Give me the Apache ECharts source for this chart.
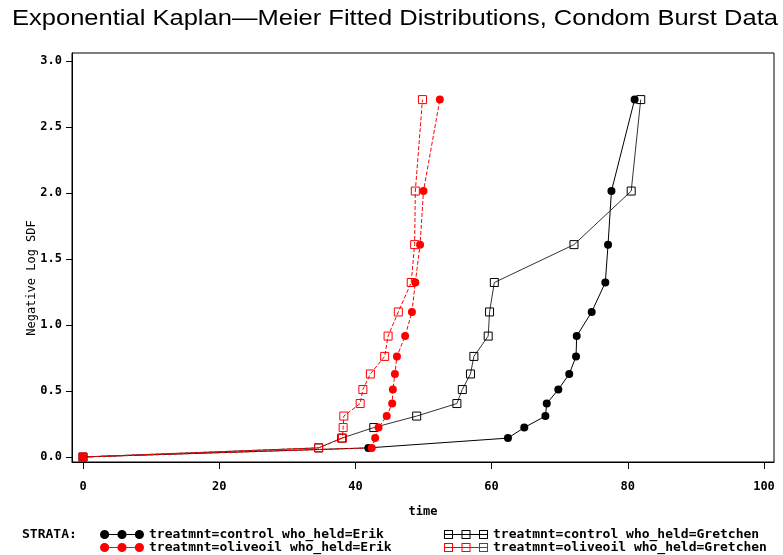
<!DOCTYPE html>
<html><head><meta charset="utf-8">
<script src="https://cdn.jsdelivr.net/npm/echarts@6/dist/echarts.min.js"></script>
<style>html,body{margin:0;padding:0;background:#fff}#c{width:783px;height:555px}</style>
</head><body><div id="c"></div>
<script>
const titleText = 'Exponential Kaplan\u2014Meier Fitted Distributions, Condom Burst Data';
const xAxisName = 'time';
const yAxisName = 'Negative Log SDF';
const legendTitle = 'STRATA:';
const seriesNames = [
  'treatmnt=control who_held=Erik',
  'treatmnt=control who_held=Gretchen',
  'treatmnt=oliveoil who_held=Erik',
  'treatmnt=oliveoil who_held=Gretchen'
];
// negative log SDF levels (same step levels for every stratum)
const sdfLevels = [0, 0.069, 0.143, 0.223, 0.310, 0.405, 0.511, 0.629, 0.762, 0.916, 1.099, 1.322, 1.609, 2.015, 2.708];
// burst times per stratum
const timeControlErik     = [0, 41.9, 62.4, 64.8, 67.9, 68.1, 69.8, 71.4, 72.4, 72.5, 74.7, 76.7, 77.1, 77.6, 81.0];
const timeControlGretchen = [0, 34.6, 38.0, 42.7, 49.0, 54.9, 55.7, 56.9, 57.4, 59.5, 59.7, 60.4, 72.1, 80.5, 81.9];
const timeOliveErik       = [0, 42.4, 42.9, 43.4, 44.6, 45.4, 45.5, 45.8, 46.1, 47.3, 48.3, 48.8, 49.5, 50.0, 52.4];
const timeOliveGretchen   = [0, 34.6, 38.1, 38.2, 38.3, 40.7, 41.1, 42.2, 44.3, 44.8, 46.3, 48.2, 48.7, 48.8, 49.85];
const xTicks = [0, 20, 40, 60, 80, 100];
const yTicks = [0, 0.5, 1.0, 1.5, 2.0, 2.5, 3.0];

const pairs = (ts) => ts.map((t, i) => [t, sdfLevels[i]]);
const MONO = 'DejaVu Sans Mono';

const circleIcon = 'path://M0.5,5A4.5,4.5,0,1,1,9.5,5A4.5,4.5,0,1,1,0.5,5Z' +
  'M17.5,5A4.5,4.5,0,1,1,26.5,5A4.5,4.5,0,1,1,17.5,5Z' +
  'M34.5,5A4.5,4.5,0,1,1,43.5,5A4.5,4.5,0,1,1,34.5,5Z' +
  'M9.5,4.5H17.5V5.5H9.5Z M26.5,4.5H34.5V5.5H26.5Z';
const squareIcon = 'path://M0,0.5H9V9.5H0Z M1,1.5V8.5H8V1.5Z' +
  'M17.5,0.5H26.5V9.5H17.5Z M18.5,1.5V8.5H25.5V1.5Z' +
  'M35,0.5H44V9.5H35Z M36,1.5V8.5H43V1.5Z' +
  'M0,4.5H44V5.5H0Z';
const legendColors = ['#000', '#000', '#ff0000', '#ff0000'];
const legendIcons = [circleIcon, squareIcon, circleIcon, squareIcon];
const legendPos = [[100, 528], [444, 528], [100, 541], [444, 541]];

const legends = seriesNames.map((n, i) => ({
  orient: 'horizontal', left: legendPos[i][0], top: legendPos[i][1], itemWidth: 44, itemHeight: 10,
  selectedMode: false, padding: 0,
  textStyle: {color: '#000', fontFamily: MONO, fontWeight: 'bold', fontSize: 13},
  data: [{name: n, icon: legendIcons[i], itemStyle: {color: legendColors[i], borderWidth: 0, borderColor: 'transparent'}}]
}));

const chart = echarts.init(document.getElementById('c'), null, {renderer: 'canvas'});
const option = {
  animation: false,
  backgroundColor: '#fff',
  grid: {left: 72, top: 53, width: 702, height: 409, show: true, borderColor: '#000', borderWidth: 1, backgroundColor: 'transparent'},
  xAxis: {
    type: 'value', min: -1.615, max: 101.47,
    axisLine: {show: true, onZero: false, lineStyle: {color: '#000', width: 1}},
    axisTick: {show: true, customValues: xTicks, length: 7, lineStyle: {color: '#000'}},
    axisLabel: {customValues: xTicks, margin: 19, color: '#000', fontFamily: MONO, fontWeight: 'bold', fontSize: 12},
    splitLine: {show: false},
    name: xAxisName, nameLocation: 'middle', nameGap: 44,
    nameTextStyle: {color: '#000', fontFamily: MONO, fontWeight: 'bold', fontSize: 12}
  },
  yAxis: {
    type: 'value', min: -0.038, max: 3.061,
    axisLine: {show: true, onZero: false, lineStyle: {color: '#000', width: 1}},
    axisTick: {show: true, customValues: yTicks, length: 6, lineStyle: {color: '#000'}},
    axisLabel: {customValues: yTicks, margin: 10, color: '#000', fontFamily: MONO, fontWeight: 'bold', fontSize: 12,
      formatter: (v) => v.toFixed(1)},
    splitLine: {show: false}
  },
  legend: legends,
  graphic: [
    {type: 'text', x: 12, y: 8, scaleX: 1.16,
      style: {text: titleText, font: '22px "Liberation Sans"', fill: '#000', align: 'left', verticalAlign: 'top'}},
    {type: 'text', left: 22, top: 528, style: {text: legendTitle, font: 'bold 13px "DejaVu Sans Mono"', fill: '#000'}},
    {type: 'text', x: 32, y: 278, rotation: Math.PI / 2,
      style: {text: yAxisName, font: '12px "DejaVu Sans Mono"', fill: '#000', align: 'center', verticalAlign: 'middle'}}
  ],
  series: [
    {name: seriesNames[0], type: 'line', data: pairs(timeControlErik), symbol: 'circle', symbolSize: 8,
      itemStyle: {color: '#000'}, lineStyle: {color: '#000', width: 1}},
    {name: seriesNames[1], type: 'line', data: pairs(timeControlGretchen), symbol: 'rect', symbolSize: 8,
      itemStyle: {color: 'rgba(0,0,0,0)', borderColor: '#000', borderWidth: 1}, lineStyle: {color: '#333', width: 1}},
    {name: seriesNames[2], type: 'line', data: pairs(timeOliveErik), symbol: 'circle', symbolSize: 8,
      itemStyle: {color: '#ff0000'}, lineStyle: {color: '#ff0000', width: 1, type: [4, 2]}},
    {name: seriesNames[3], type: 'line', data: pairs(timeOliveGretchen), symbol: 'rect', symbolSize: 8,
      itemStyle: {color: 'rgba(0,0,0,0)', borderColor: '#ff0000', borderWidth: 1}, lineStyle: {color: '#ff0000', width: 1, type: [4, 2]}}
  ]
};
chart.setOption(option);
</script>
</body></html>
